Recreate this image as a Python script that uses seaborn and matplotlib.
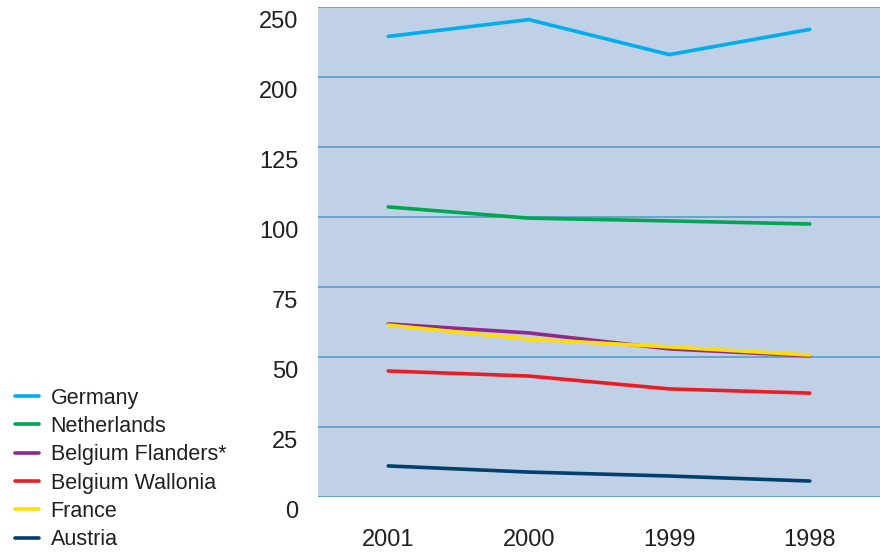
import numpy as np
import pandas as pd
import matplotlib
matplotlib.use("Agg")
import matplotlib.pyplot as plt
import matplotlib.transforms as mtrans
import seaborn as sns

years = ["2001", "2000", "1999", "1998"]
germany = [229, 241, 216, 234]
netherlands = [103.6, 99.6, 98.6, 97.5]
flanders = [61.8, 58.6, 52.9, 50.4]
wallonia = [45.0, 43.2, 38.6, 37.1]
france = [61.4, 56.4, 53.6, 50.7]
austria = [11.1, 8.9, 7.5, 5.7]

series = ["Germany", "Netherlands", "Belgium Flanders*", "Belgium Wallonia", "France", "Austria"]
colors = ["#00AEEF", "#00A651", "#92278F", "#ED1C24", "#FFDE00", "#003F6E"]
yticks = [0, 25, 50, 75, 100, 125, 200, 250]

df = pd.DataFrame({
    "year": years * 6,
    "value": germany + netherlands + flanders + wallonia + france + austria,
    "series": np.repeat(series, len(years)),
})

# uneven axis: ticks are evenly spaced though values are not
tpos = np.arange(len(yticks), dtype=float)
def fwd(v):
    return np.interp(v, yticks, tpos)
def inv(p):
    return np.interp(p, tpos, yticks)

sns.set_style("white")
plt.rcParams["font.family"] = ["Liberation Sans", "DejaVu Sans"]

fig = plt.figure(figsize=(8.8, 5.53), dpi=100)
ax = fig.add_axes([318 / 880, 56 / 553, 562 / 880, 490 / 553])
ax.set_facecolor("#C0D0E6")

sns.lineplot(data=df, x="year", y="value", hue="series", hue_order=series,
             palette=colors, linewidth=2.6, sort=False, ax=ax, legend=False)

ax.set_yscale("function", functions=(fwd, inv))
ax.set_ylim(0, 250)
ax.set_xlim(-0.5, 3.5)
ax.set_yticks(yticks)
ax.set_yticklabels([str(t) for t in yticks])
ax.grid(axis="y", color="#5B9BC9", linewidth=1.2)
ax.set_axisbelow(True)
for s in ax.spines.values():
    s.set_visible(False)
ax.tick_params(axis="both", length=0, labelsize=17, colors="#231F20")
ax.tick_params(axis="y", pad=14)
ax.tick_params(axis="x", pad=23)
ax.set_xlabel("")
ax.set_ylabel("")

# y labels sit a little below their gridlines in the original
shift = mtrans.ScaledTranslation(0, -12 / 100, fig.dpi_scale_trans)
for lab in ax.get_yticklabels():
    lab.set_transform(lab.get_transform() + shift)

handles = [plt.Line2D([], [], color=c, linewidth=2.6) for c in colors]
fig.legend(handles, series, loc="lower left", bbox_to_anchor=(-0.005, -0.03),
           frameon=False, fontsize=15.5, handlelength=1.1, handletextpad=0.56,
           labelspacing=0.34, labelcolor="#231F20")

fig.savefig("out.png", dpi=100)
